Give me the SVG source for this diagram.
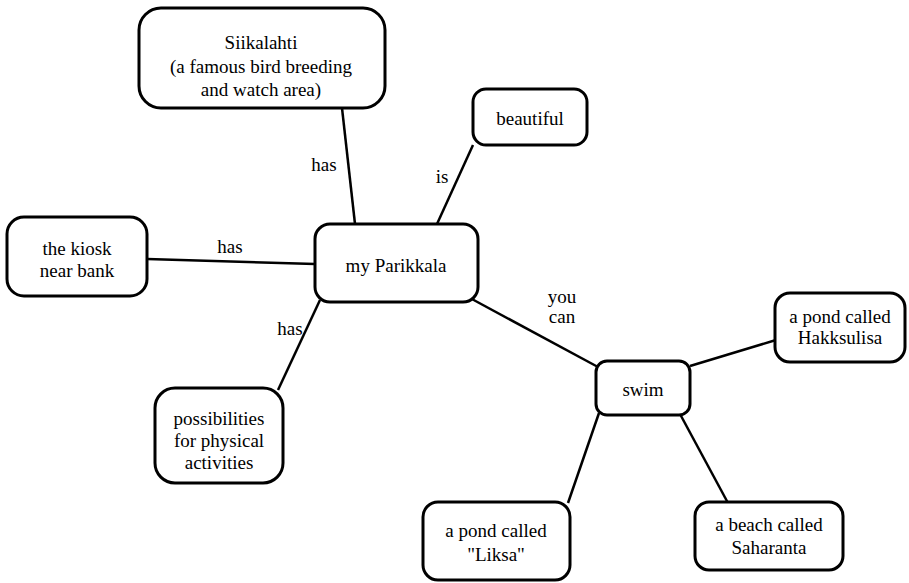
<svg xmlns="http://www.w3.org/2000/svg" width="909" height="583" viewBox="0 0 909 583">
  <style>
    .box { fill: #ffffff; stroke: #000000; stroke-width: 3; }
    .edge { stroke: #000000; stroke-width: 2.5; fill: none; }
    .t { font-family: "Liberation Serif", Tinos, "Noto Serif", "DejaVu Serif", FreeSerif, Times, "Times New Roman", serif; font-size: 19px; fill: #000000; text-anchor: middle; }
  </style>
  <rect width="909" height="583" fill="#ffffff"/>

  <!-- connectors -->
  <g id="connectors">
    <line class="edge" x1="342" y1="108" x2="355" y2="224"/>
    <line class="edge" x1="473" y1="145" x2="437" y2="224"/>
    <line class="edge" x1="147" y1="259" x2="315" y2="264"/>
    <line class="edge" x1="278" y1="390" x2="320" y2="300"/>
    <line class="edge" x1="470" y1="298" x2="598" y2="367"/>
    <line class="edge" x1="690" y1="366" x2="776" y2="340"/>
    <line class="edge" x1="599" y1="413" x2="568" y2="503"/>
    <line class="edge" x1="680" y1="414" x2="728" y2="503"/>
    <text class="t" x="324" y="171">has</text>
    <text class="t" x="442" y="183">is</text>
    <text class="t" x="230" y="253">has</text>
    <text class="t" x="290" y="335">has</text>
    <text class="t" x="562" y="303">you</text>
    <text class="t" x="562" y="323">can</text>
  </g>

  <g id="siikalahti">
    <rect class="box" x="139" y="8" width="246" height="100" rx="22"/>
    <text class="t" x="261" y="49">Siikalahti</text>
    <text class="t" x="261" y="73">(a famous bird breeding</text>
    <text class="t" x="261" y="96">and watch area)</text>
  </g>

  <g id="beautiful">
    <rect class="box" x="473" y="89" width="114" height="56" rx="13"/>
    <text class="t" x="530" y="125">beautiful</text>
  </g>

  <g id="kiosk">
    <rect class="box" x="7" y="217" width="140" height="79" rx="17"/>
    <text class="t" x="77" y="255">the kiosk</text>
    <text class="t" x="77" y="277">near bank</text>
  </g>

  <g id="parikkala">
    <rect class="box" x="315" y="224" width="163" height="78" rx="15"/>
    <text class="t" x="396" y="272">my Parikkala</text>
  </g>

  <g id="possibilities">
    <rect class="box" x="155" y="388" width="128" height="95" rx="20"/>
    <text class="t" x="219" y="425">possibilities</text>
    <text class="t" x="219" y="447">for physical</text>
    <text class="t" x="219" y="469">activities</text>
  </g>

  <g id="swim">
    <rect class="box" x="596" y="361" width="94" height="54" rx="11"/>
    <text class="t" x="643" y="396">swim</text>
  </g>

  <g id="hakksulisa">
    <rect class="box" x="775" y="293" width="130" height="69" rx="15"/>
    <text class="t" x="840" y="323">a pond called</text>
    <text class="t" x="840" y="344">Hakksulisa</text>
  </g>

  <g id="liksa">
    <rect class="box" x="423" y="502" width="147" height="78" rx="15"/>
    <text class="t" x="496" y="537">a pond called</text>
    <text class="t" x="496" y="561">"Liksa"</text>
  </g>

  <g id="saharanta">
    <rect class="box" x="695" y="502" width="148" height="68" rx="14"/>
    <text class="t" x="769" y="531">a beach called</text>
    <text class="t" x="769" y="554">Saharanta</text>
  </g>
</svg>
